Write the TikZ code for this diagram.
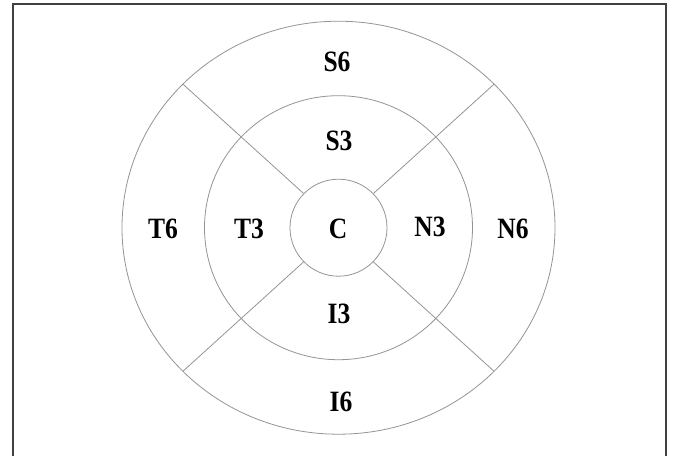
\documentclass[tikz,border=0pt]{standalone}
\usepackage{fontspec}
\setmainfont{Liberation Serif}
\newcommand{\tallbf}[1]{\scalebox{1.02}[1.18]{#1}}
\begin{document}
\begin{tikzpicture}[x=1pt,y=-1pt,
  ring/.style={draw=black!42,line width=0.8pt},
  lab/.style={font=\fontsize{25}{25}\selectfont\bfseries,inner sep=0pt}]
\useasboundingbox (0,0) rectangle (673,456);
\fill[white] (0,0) rectangle (673,456);
\draw[black!75,line width=1.6pt] (13,456) -- (13,4) -- (666,4) -- (666,456);
\coordinate (c) at (338.5,227.7);
\draw[ring] (c) ellipse [x radius=216.5, y radius=206.5];
\draw[ring] (c) ellipse [x radius=134, y radius=132];
\draw[ring] (c) circle [radius=48.5];
\coordinate (ul1) at (303.5,193.4);
\coordinate (ul2) at (183,84.2);
\coordinate (ur1) at (373.5,193.4);
\coordinate (ur2) at (494,84.2);
\coordinate (ll1) at (303.5,262);
\coordinate (ll2) at (183,371.2);
\coordinate (lr1) at (373.5,262);
\coordinate (lr2) at (494,371.2);
\draw[ring] (ul1) -- (ul2);
\draw[ring] (ur1) -- (ur2);
\draw[ring] (ll1) -- (ll2);
\draw[ring] (lr1) -- (lr2);
\node[lab] (S6) at (337,62) {\tallbf{S6}};
\node[lab] (S3) at (339,141) {\tallbf{S3}};
\node[lab] (T6) at (163,229) {\tallbf{T6}};
\node[lab] (T3) at (249,229) {\tallbf{T3}};
\node[lab] (C) at (338,229) {\tallbf{C}};
\node[lab] (N3) at (430,227) {\tallbf{N3}};
\node[lab] (N6) at (513,229) {\tallbf{N6}};
\node[lab] (I3) at (339,314) {\tallbf{I3}};
\node[lab] (I6) at (341,402) {\tallbf{I6}};
\end{tikzpicture}
\end{document}
